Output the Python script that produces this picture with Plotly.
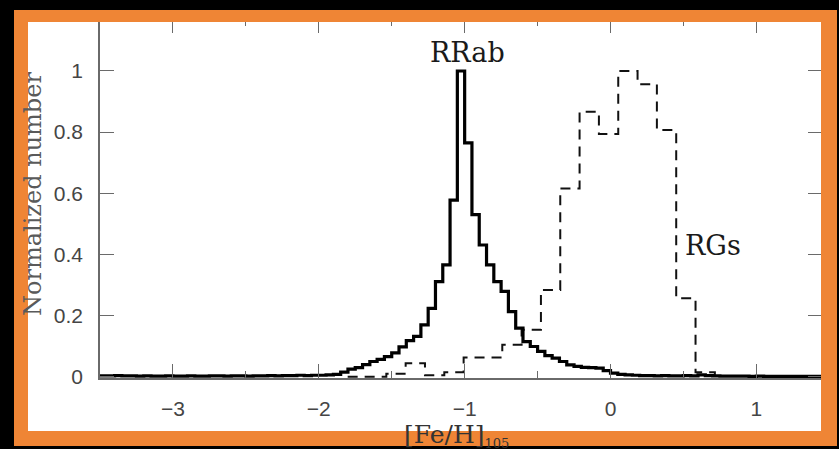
import plotly.graph_objects as go

# ---- RRab metallicity histogram (0.05 dex bins, starting at -3.5) ----
RR_FIRST_EDGE = -3.5
RR_BIN = 0.05
rrab_norm = [
    0.003, 0.003, 0.004, 0.003, 0.003, 0.002, 0.003, 0.002, 0.002, 0.003,
    0.002, 0.002, 0.003, 0.002, 0.002, 0.003, 0.003, 0.002, 0.003, 0.003,
    0.002, 0.003, 0.003, 0.004, 0.003, 0.004, 0.004, 0.005, 0.004, 0.005,
    0.005, 0.006, 0.008, 0.015, 0.025, 0.030, 0.040, 0.050, 0.057, 0.066,
    0.078, 0.098, 0.118, 0.132, 0.170, 0.224, 0.311, 0.366, 0.578, 1.000,
    0.765, 0.530, 0.431, 0.366, 0.311, 0.279, 0.213, 0.159, 0.115, 0.099,
    0.083, 0.069, 0.061, 0.050, 0.039, 0.034, 0.031, 0.030, 0.028, 0.020,
    0.012, 0.008, 0.006, 0.005, 0.004, 0.004, 0.003, 0.004, 0.003, 0.003,
    0.004, 0.003, 0.006, 0.004, 0.003, 0.002, 0.002, 0.002, 0.002, 0.001,
    0.002, 0.001, 0.001, 0.001, 0.001, 0.001, 0.001, 0.001, 0.001,
]

# ---- Red giant metallicity histogram (wider bins) ----
RG_FIRST_EDGE = -1.802
RG_BIN = 0.1325
rg_norm = [
    0.0, 0.0, 0.010, 0.044, 0.005, 0.015, 0.063, 0.063, 0.105, 0.154,
    0.284, 0.616, 0.867, 0.794, 1.000, 0.957, 0.807, 0.257, 0.015,
]

x_tick_vals = [-3, -2, -1, 0, 1]
y_tick_vals = [0, 0.2, 0.4, 0.6, 0.8, 1]
y_tick_text = ["0", "0.2", "0.4", "0.6", "0.8", "1"]


def step_outline(first_edge, width, values, end_value):
    edges = [round(first_edge + i * width, 5) for i in range(len(values) + 1)]
    heights = list(values) + [end_value]
    return edges, heights


rr_x, rr_y = step_outline(RR_FIRST_EDGE, RR_BIN, rrab_norm, rrab_norm[-1])
rg_x, rg_y = step_outline(RG_FIRST_EDGE, RG_BIN, rg_norm, 0.0)

fig = go.Figure()
fig.add_trace(go.Scatter(
    x=rg_x, y=rg_y, mode="lines", line_shape="hv",
    line=dict(color="#111111", width=2, dash="10px,7px"),
    showlegend=False, hoverinfo="skip",
))
fig.add_trace(go.Scatter(
    x=rr_x, y=rr_y, mode="lines", line_shape="hv",
    line=dict(color="#000000", width=3.2),
    showlegend=False, hoverinfo="skip",
))

# figure geometry (pixels)
W, H = 839, 449
ML, MR, MT, MB = 100, 17, 19, 71
PW, PH = W - ML - MR, H - MT - MB


def px(p):
    return (p - ML) / PW


def py(p):
    return (H - MB - p) / PH


axis_grey = "#6a6a6a"
tick_font = dict(family="Liberation Sans, Arial, sans-serif", size=21, color="#454545")

fig.update_xaxes(
    range=[-3.5, 1.45], tickvals=x_tick_vals, ticks="inside", ticklen=14,
    tickwidth=1.3, tickcolor=axis_grey, showline=True, linecolor=axis_grey,
    linewidth=1.5, mirror="ticks", showgrid=False, zeroline=False,
    tickfont=tick_font, ticklabelstandoff=11,
    minor=dict(dtick=0.5, ticks="inside", ticklen=7, tickwidth=1.2,
               tickcolor=axis_grey, showgrid=False),
)
fig.update_yaxes(
    range=[-0.004, 1.17], tickvals=y_tick_vals, ticktext=y_tick_text,
    ticks="inside", ticklen=14, tickwidth=1.3, tickcolor=axis_grey,
    showline=True, linecolor=axis_grey, linewidth=1.5, mirror="ticks",
    showgrid=False, zeroline=False, tickfont=tick_font, ticklabelstandoff=11,
)

orange = "#EF8535"
outer = (14, 10, 837, 446)
inner = (28, 22, 821, 431)


def rect_path(r):
    x0, y0, x1, y1 = px(r[0]), py(r[1]), px(r[2]), py(r[3])
    return f"M {x0},{y0} L {x1},{y0} L {x1},{y1} L {x0},{y1} Z"


shapes = [
    dict(type="rect", xref="paper", yref="paper", layer="below",
         x0=px(outer[0]), x1=px(outer[2]), y0=py(outer[3]), y1=py(outer[1]),
         fillcolor="white", line=dict(width=0)),
    dict(type="path", xref="paper", yref="paper", layer="above",
         path=rect_path(outer) + " " + rect_path(inner), fillrule="evenodd",
         fillcolor=orange, line=dict(width=0)),
]

serif = "DejaVu Serif, serif"
annotations = [
    dict(x=-0.983, y=1.06, xref="x", yref="y", text="RRab", showarrow=False,
         font=dict(family=serif, size=27, color="#1a1a1a"),
         xanchor="center", yanchor="middle"),
    dict(x=0.70, y=0.43, xref="x", yref="y", text="RGs", showarrow=False,
         font=dict(family=serif, size=27, color="#1a1a1a"),
         xanchor="center", yanchor="middle"),
    dict(x=px(33), y=py(194), xref="paper", yref="paper",
         text="Normalized number", showarrow=False, textangle=-90,
         font=dict(family=serif, size=24, color="#5a5a5a"),
         xanchor="center", yanchor="middle"),
    dict(x=px(456), y=py(435), xref="paper", yref="paper",
         text="[Fe/H]<sub><span style='font-size:13px'>105</span></sub>",
         showarrow=False,
         font=dict(family=serif, size=25, color="#333333"),
         xanchor="center", yanchor="middle"),
]

fig.update_layout(
    width=W, height=H,
    margin=dict(l=ML, r=MR, t=MT, b=MB, pad=0),
    paper_bgcolor="black", plot_bgcolor="white",
    shapes=shapes, annotations=annotations,
    showlegend=False,
)

fig.write_html("out.html")
